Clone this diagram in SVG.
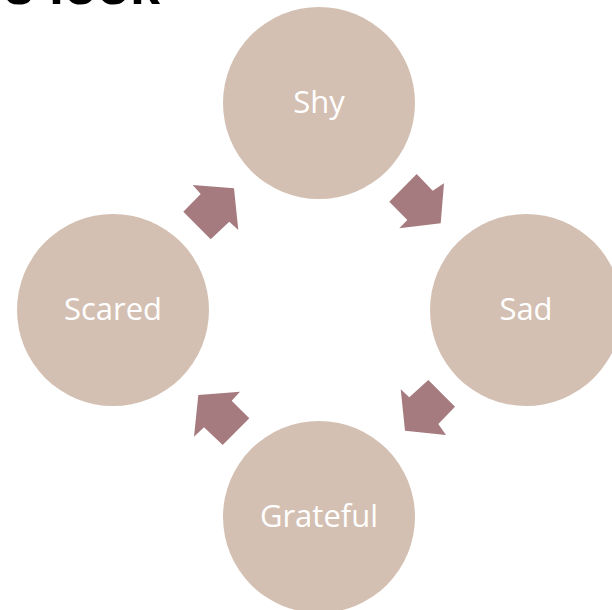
<svg xmlns="http://www.w3.org/2000/svg" width="612" height="610" viewBox="0 0 612 610">
<style>
.node{fill:#D4C0B2}
.lbl{fill:#ffffff;font-family:"Open Sans","Liberation Sans",sans-serif;font-size:31px;text-anchor:middle}
.arr{fill:#A67B7F}
</style>
<rect width="612" height="610" fill="#ffffff"/>
<text x="4" y="4" font-family="Liberation Sans, sans-serif" font-weight="bold" font-size="54" fill="#000000">s look</text>
<g id="connectors">
<polygon class="arr" points="192.7,185 234,188.3 238.3,230 229.3,221.7 210.7,239.3 183.3,211.7 200.7,194"/>
<polygon class="arr" points="416.7,174 432.7,190.7 444,183.3 440.7,223.3 399.3,228.3 407.3,220 389.3,201.7"/>
<polygon class="arr" points="428.3,380 455,406.7 438.3,424 446,435 405,430.7 400.7,389.3 409.3,397.3"/>
<polygon class="arr" points="198.3,395 240,391.7 231.7,400.7 249.3,418.3 222.7,445 204,427.3 194,436.7"/>
</g>
<g id="shy"><circle class="node" cx="319" cy="103" r="96"/><text class="lbl" x="319" y="113">Shy</text></g>
<g id="sad"><circle class="node" cx="526" cy="310" r="96"/><text class="lbl" x="526" y="320">Sad</text></g>
<g id="grateful"><circle class="node" cx="319" cy="517" r="96"/><text class="lbl" x="319" y="527">Grateful</text></g>
<g id="scared"><circle class="node" cx="113" cy="310" r="96"/><text class="lbl" x="113" y="320">Scared</text></g>
</svg>
